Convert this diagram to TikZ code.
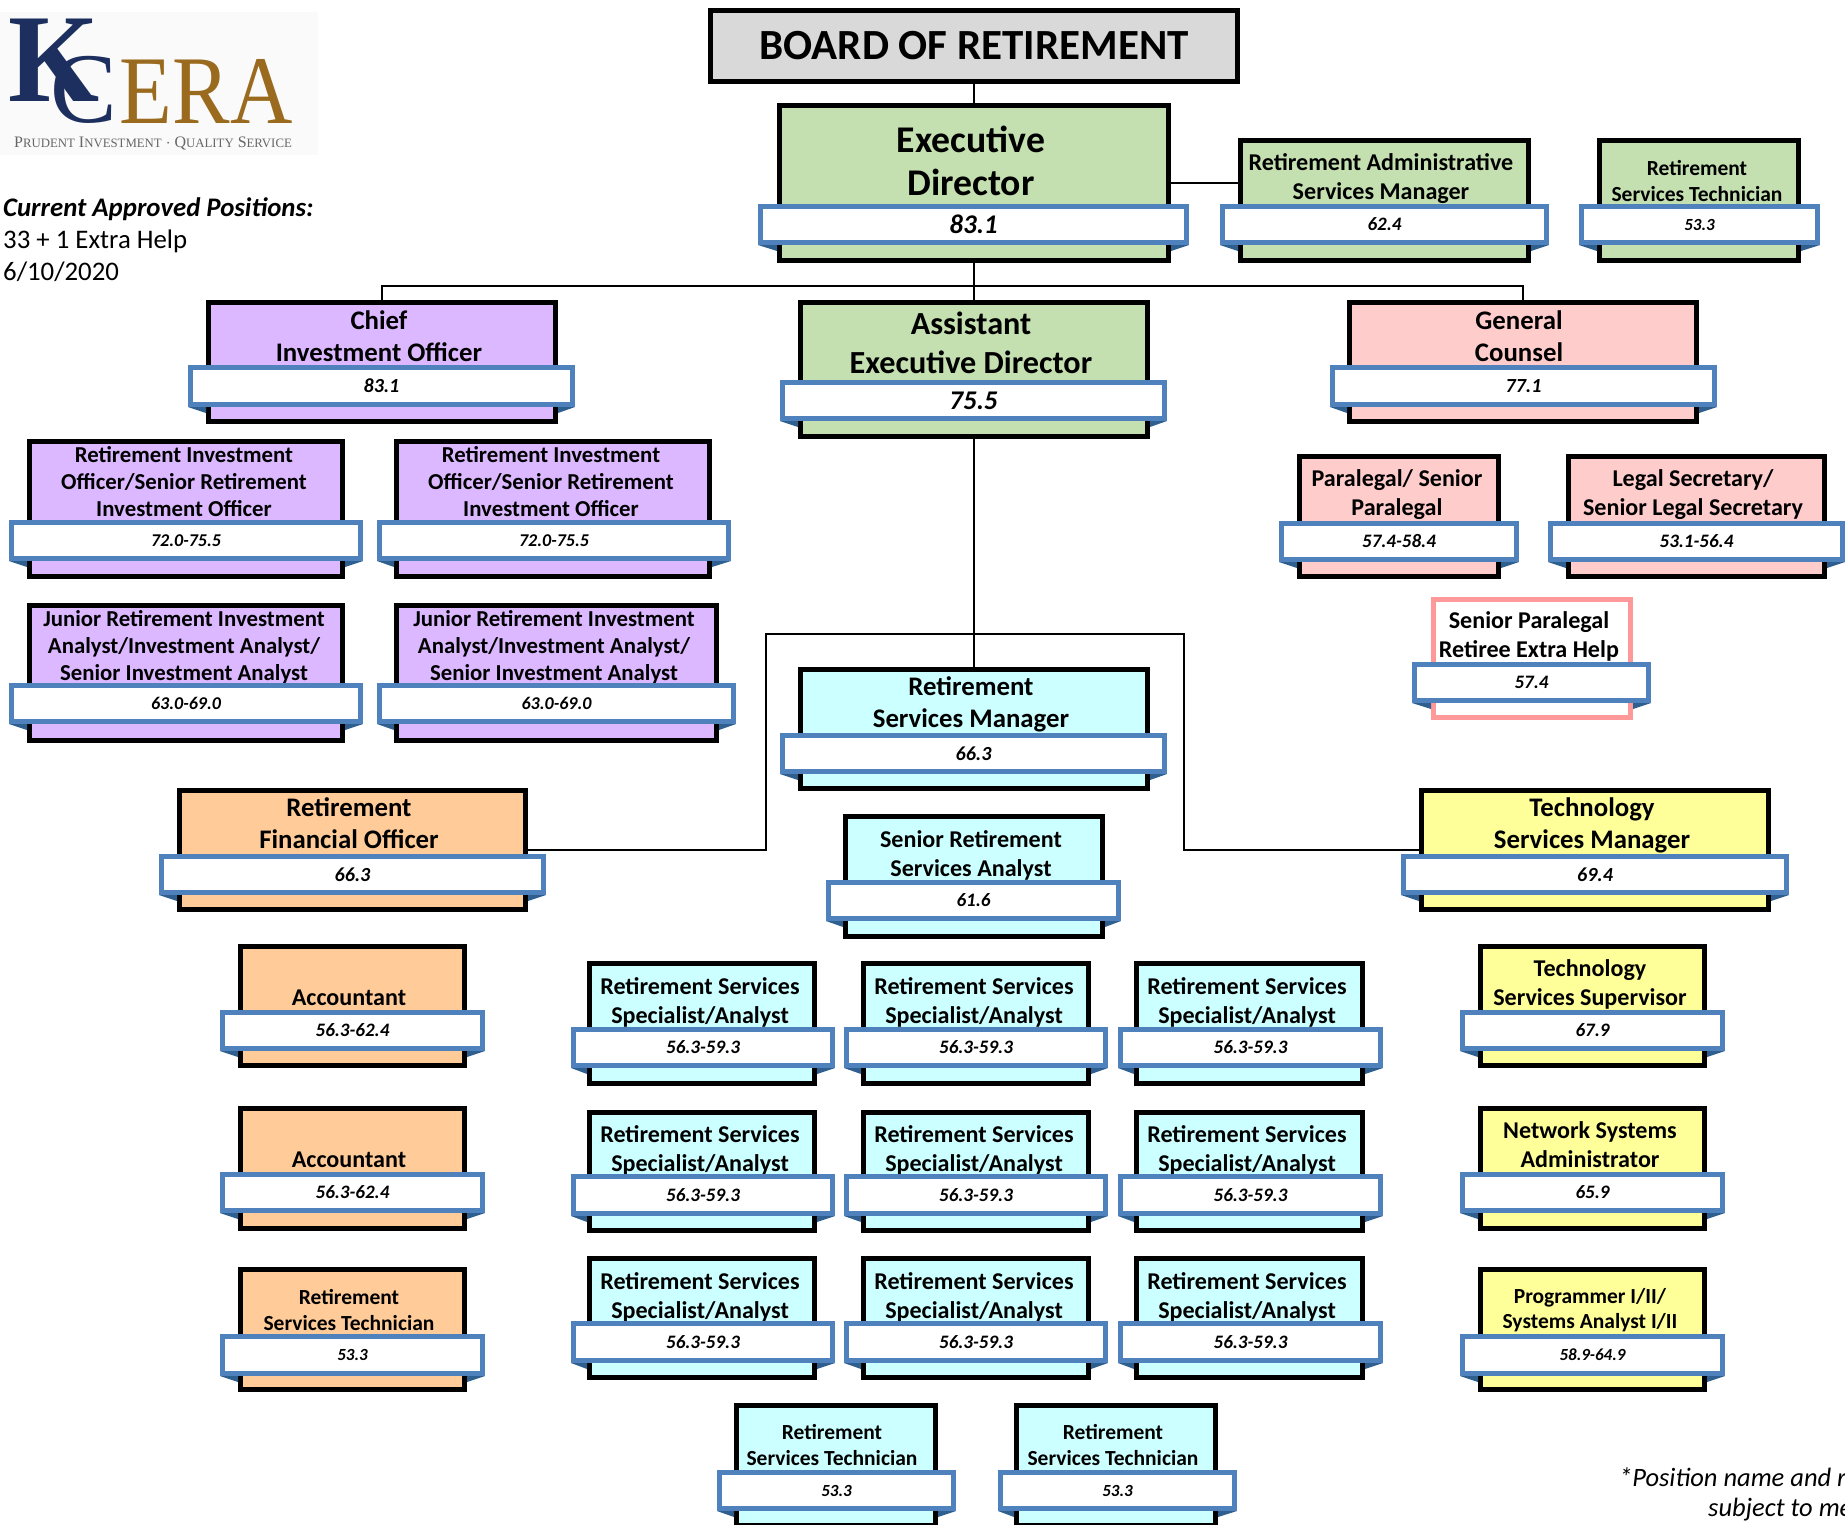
\documentclass[tikz,border=0pt]{standalone}
\usepackage{fontspec}
\setmainfont{Carlito}
\newfontfamily\logofont{Liberation Serif}
\usetikzlibrary{fit}
\definecolor{ribbonblue}{HTML}{4F81BD}
\definecolor{foldblue}{HTML}{2F5F8F}
\definecolor{execgreen}{HTML}{C4DFB0}
\definecolor{investpurple}{HTML}{DBB8FF}
\definecolor{legalpink}{HTML}{FFCCCC}
\definecolor{retireepink}{HTML}{FF9999}
\definecolor{servicecyan}{HTML}{CCFFFF}
\definecolor{financeorange}{HTML}{FFCC99}
\definecolor{techyellow}{HTML}{FFFF99}
\definecolor{boardgray}{HTML}{D9D9D9}
\definecolor{logonavy}{HTML}{1C2F5E}
\definecolor{logobronze}{HTML}{9A6B1E}
\tikzset{
  sized/.style n args={3}{
    titlefont/.style={font=\fontsize{#1}{#2}\selectfont\bfseries},
    numfont/.style={font=\fontsize{#3}{#3}\selectfont\bfseries\itshape}},
  boxgreen/.style={boxfill/.style={fill=execgreen}},
  boxpurple/.style={boxfill/.style={fill=investpurple}},
  boxpink/.style={boxfill/.style={fill=legalpink}},
  boxretiree/.style={boxfill/.style={fill=white,draw=retireepink}},
  boxcyan/.style={boxfill/.style={fill=servicecyan}},
  boxorange/.style={boxfill/.style={fill=financeorange}},
  boxyellow/.style={boxfill/.style={fill=techyellow}},
  execsize/.style={sized={37.7}{43}{27}},
  aedsize/.style={sized={32.2}{39}{27}},
  headsize/.style={sized={26.8}{32}{20}},
  midsize/.style={sized={24.1}{29}{19}},
  invsize/.style={sized={22.8}{27}{18}},
  techsize/.style={sized={21.5}{25.5}{17}},
  cardbox/.style={draw=black,line width=5pt,inner sep=-2.5pt},
  cardribbon/.style={draw=ribbonblue,fill=white,line width=5pt,inner sep=-2.5pt},
  cardtitle/.style={inner sep=0pt,align=center},
  link/.style={draw=black,line width=2.5pt},
  lefttext/.style={inner sep=0pt,align=left,anchor=north west,font=\fontsize{26.8}{32}\selectfont},
  notetext/.style={inner sep=0pt,anchor=west,font=\fontsize{26.5}{32}\selectfont\itshape}
}
% name, styles, box corners, ribbon corners, title centre, title, number
\newcommand{\card}[9]{
  \begin{scope}[#2]
    \node[cardbox,boxfill,fit={(#3)(#4)}] (#1) {};
    \node[cardtitle,titlefont] (#1t) at (#7) {#8};
    \node[cardribbon,fit={(#5)(#6)}] (#1r) {};
    \node[cardtitle,numfont] (#1n) at (#1r.center) {#9};
    \fill[foldblue] (#1r.south west) -- (#1.west |- #1r.south) -- ++(0,6) -- cycle;
    \fill[foldblue] (#1r.south east) -- (#1.east |- #1r.south) -- ++(0,6) -- cycle;
  \end{scope}
}
\begin{document}
\begin{tikzpicture}[x=1pt,y=-1pt]
  \useasboundingbox (0,0) rectangle (1845,1524);

  \fill[black!2] (0,12) rectangle (318,155);
  \node[inner sep=0pt,text=logonavy,xscale=0.93,font=\fontsize{126}{126}\logofont\bfseries] (logok) at (54,60) {K};
  \node[inner sep=0pt,text=logonavy,font=\fontsize{100}{100}\logofont] (logoc) at (84,90) {C};
  \node[inner sep=0pt,text=logobronze,xscale=0.89,font=\fontsize{97}{97}\logofont] (logoera) at (206,91) {ERA};
  \node[inner sep=0pt,text=black!60,font=\fontsize{16}{16}\logofont] (logotag) at (153,143) {P{\fontsize{12.8}{12.8}\selectfont RUDENT} I{\fontsize{12.8}{12.8}\selectfont NVESTMENT} $\cdot$ Q{\fontsize{12.8}{12.8}\selectfont UALITY} S{\fontsize{12.8}{12.8}\selectfont ERVICE}};

  \node[lefttext] (positions) at (3,197) {\textbf{\textit{Current Approved Positions:}}\\33 + 1 Extra Help\\6/10/2020};
  \node[notetext] (noteone) at (1619,1477) {*Position name and r};
  \node[notetext] (notetwo) at (1708,1510) {subject to me};

  \node[draw=black,fill=boardgray,line width=5pt,inner sep=-2.5pt,fit={(708,8)(1240,84)}] (board) {};
  \node[inner sep=0pt,font=\fontsize{43}{43}\selectfont\bfseries] (boardt) at (board.center) {BOARD OF RETIREMENT};

  \card{exec}{boxgreen,execsize}{777,103}{1171,263}{758,204}{1189,245}{971,161}{Executive\\Director}{83.1}
  \card{admin}{boxgreen,midsize}{1238,138}{1531,263}{1220,204}{1549,245}{1381,179}{Retirement Administrative\\Services Manager}{62.4}
  \card{tech}{boxgreen,techsize}{1597,138}{1801,263}{1579,204}{1820,245}{1697,181}{Retirement\\Services Technician}{53.3}

  \card{cio}{boxpurple,headsize}{206,300}{558,424}{188,365}{575,407}{379,336}{Chief\\Investment Officer}{83.1}
  \card{aed}{boxgreen,aedsize}{798,300}{1150,439}{780,380}{1167,421}{971,343}{Assistant\\Executive Director}{75.5}
  \card{gc}{boxpink,headsize}{1347,300}{1699,424}{1330,365}{1717,407}{1519,336}{General\\Counsel}{77.1}

  \card{rioa}{boxpurple,invsize}{27,439}{345,579}{9,520}{363,561}{184,482}{Retirement Investment\\Officer/Senior Retirement\\Investment Officer}{72.0-75.5}
  \card{riob}{boxpurple,invsize}{394,439}{712,579}{377,520}{731,561}{551,482}{Retirement Investment\\Officer/Senior Retirement\\Investment Officer}{72.0-75.5}
  \card{jria}{boxpurple,invsize}{27,603}{345,743}{9,683}{363,724}{184,647}{Junior Retirement Investment\\Analyst/Investment Analyst/\\Senior Investment Analyst}{63.0-69.0}
  \card{jrib}{boxpurple,invsize}{394,603}{719,743}{377,683}{736,724}{554,647}{Junior Retirement Investment\\Analyst/Investment Analyst/\\Senior Investment Analyst}{63.0-69.0}

  \card{para}{boxpink,midsize}{1297,454}{1501,579}{1279,521}{1519,562}{1397,495}{Paralegal/ Senior\\Paralegal}{57.4-58.4}
  \card{legal}{boxpink,midsize}{1566,454}{1827,579}{1548,521}{1845,562}{1693,495}{Legal Secretary/\\Senior Legal Secretary}{53.1-56.4}
  \card{retiree}{boxretiree,midsize}{1431,597}{1633,720}{1412,662}{1651,703}{1529,636}{Senior Paralegal\\Retiree Extra Help}{57.4}

  \card{rsm}{boxcyan,headsize}{798,667}{1150,791}{780,733}{1167,774}{971,704}{Retirement\\Services Manager}{66.3}
  \card{rfo}{boxorange,headsize}{177,788}{528,912}{159,854}{546,895}{349,823}{Retirement\\Financial Officer}{66.3}
  \card{tsm}{boxyellow,headsize}{1419,788}{1771,912}{1401,854}{1789,895}{1592,825}{Technology\\Services Manager}{69.4}
  \card{sra}{boxcyan,midsize}{843,814}{1105,939}{826,880}{1121,921}{971,855}{Senior Retirement\\Services Analyst}{61.6}

  \card{acca}{boxorange,midsize}{238,944}{467,1068}{220,1010}{485,1051}{349,998}{Accountant}{56.3-62.4}
  \card{accb}{boxorange,midsize}{238,1106}{467,1231}{220,1172}{485,1213}{349,1160}{Accountant}{56.3-62.4}
  \card{rstf}{boxorange,techsize}{238,1267}{467,1392}{220,1334}{485,1376}{349,1310}{Retirement\\Services Technician}{53.3}

  \card{sup}{boxyellow,midsize}{1478,944}{1707,1068}{1460,1010}{1725,1051}{1590,984}{Technology\\Services Supervisor}{67.9}
  \card{net}{boxyellow,midsize}{1478,1106}{1707,1231}{1460,1172}{1725,1213}{1590,1145}{Network Systems\\Administrator}{65.9}
  \card{prog}{boxyellow,techsize}{1478,1267}{1707,1392}{1460,1334}{1725,1376}{1590,1310}{Programmer I/II/\\Systems Analyst I/II}{58.9-64.9}

  \foreach \colname/\bl/\br/\rl/\rr/\tx in {a/587/817/571/835/700,b/861/1091/844/1108/974,c/1134/1365/1118/1383/1247}
    \foreach \rowname/\bt/\bb/\rt/\rb/\ty in {one/961/1086/1027/1068/1002,two/1110/1233/1174/1216/1150,three/1256/1380/1321/1363/1297}
      \card{spec\colname\rowname}{boxcyan,midsize}{\bl,\bt}{\br,\bb}{\rl,\rt}{\rr,\rb}{\tx,\ty}{Retirement Services\\Specialist/Analyst}{56.3-59.3};

  \card{rsta}{boxcyan,techsize}{734,1403}{938,1528}{717,1470}{956,1511}{832,1445}{Retirement\\Services Technician}{53.3}
  \card{rstb}{boxcyan,techsize}{1014,1403}{1218,1528}{998,1470}{1237,1511}{1113,1445}{Retirement\\Services Technician}{53.3}

  \coordinate (busmain) at (974,286);
  \coordinate (busleft) at (766,634);
  \coordinate (busright) at (1184,634);
  \draw[link] (board.south) -- (exec.north);
  \draw[link] (exec.south) -- (aed.north);
  \draw[link] (cio.north) |- (busmain) -| (gc.north);
  \draw[link] (exec.east |- 0,183) -- (admin.west |- 0,183);
  \draw[link] (aed.south) -- (rsm.north);
  \draw[link] (rfo.east) -| (busleft) -- (busright) |- (tsm.west);
\end{tikzpicture}
\end{document}
